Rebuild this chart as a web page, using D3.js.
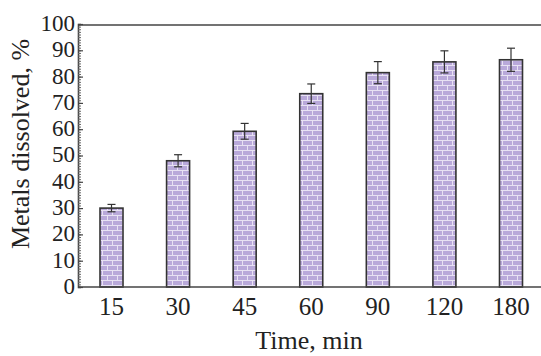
<!DOCTYPE html>
<html>
<head>
<meta charset="utf-8">
<script src="https://cdn.jsdelivr.net/npm/d3@7"></script>
<style>
  body { margin: 0; background: #fff; }
  svg { display: block; }
</style>
</head>
<body>
<div id="chart"></div>
<script>
// data
const times = ['15', '30', '45', '60', '90', '120', '180'];
const dissolved = [30, 48, 59.2, 73.5, 81.5, 85.6, 86.4];
const errors = [1.4, 2.3, 3, 3.7, 4.2, 4.2, 4.4];
const yTicks = [0, 10, 20, 30, 40, 50, 60, 70, 80, 90, 100];

const width = 541, height = 356;
const plot = { left: 78, right: 541, top: 24, bottom: 287 };
const font = '"Liberation Serif", "Times New Roman", serif';

const svg = d3.select('#chart').append('svg')
  .attr('width', width)
  .attr('height', height);

// brick fill
const defs = svg.append('defs');
const pat = defs.append('pattern')
  .attr('id', 'brick')
  .attr('patternUnits', 'userSpaceOnUse')
  .attr('width', 10)
  .attr('height', 10);
pat.append('rect').attr('width', 10).attr('height', 10).attr('fill', '#b9a9da');
pat.append('path')
  .attr('d', 'M0,0.5H10 M0,5.5H10 M2.5,0V5 M7.5,5V10')
  .attr('stroke', '#e8e2f3')
  .attr('stroke-width', 1)
  .attr('fill', 'none');

const x = d3.scalePoint()
  .domain(times)
  .range([111.5, 511]);

const y = d3.scaleLinear()
  .domain([0, 100])
  .range([plot.bottom, plot.top]);

const barW = 23;

// bars
svg.append('g').selectAll('rect')
  .data(times)
  .enter().append('rect')
  .attr('x', d => x(d) - barW / 2)
  .attr('y', (d, i) => y(dissolved[i]))
  .attr('width', barW)
  .attr('height', (d, i) => plot.bottom - y(dissolved[i]))
  .attr('fill', 'url(#brick)')
  .attr('stroke', '#333')
  .attr('stroke-width', 1.6);

// error bars
const err = svg.append('g').attr('stroke', '#333').attr('stroke-width', 1.2);
times.forEach((t, i) => {
  const cx = x(t);
  const y0 = y(dissolved[i] - errors[i]);
  const y1 = y(dissolved[i] + errors[i]);
  err.append('line').attr('x1', cx).attr('x2', cx).attr('y1', y0).attr('y2', y1);
  err.append('line').attr('x1', cx - 4).attr('x2', cx + 4).attr('y1', y0).attr('y2', y0);
  err.append('line').attr('x1', cx - 4).attr('x2', cx + 4).attr('y1', y1).attr('y2', y1);
});

// frame lines
const frame = svg.append('g').attr('stroke', '#444').attr('stroke-width', 1.6);
frame.append('line').attr('x1', plot.left).attr('x2', plot.right).attr('y1', plot.bottom).attr('y2', plot.bottom);
frame.append('line').attr('x1', plot.left).attr('x2', plot.right).attr('y1', plot.top + 1).attr('y2', plot.top + 1);

// y axis with minor ticks
const yAxis = svg.append('g')
  .attr('transform', `translate(${plot.left},0)`)
  .call(d3.axisRight(y).tickValues(d3.range(0, 101, 1)).tickSize(3).tickFormat(''));
yAxis.select('.domain').attr('stroke', '#444').attr('stroke-width', 1.6);
yAxis.selectAll('.tick line').attr('stroke', '#666');

svg.append('g')
  .attr('transform', `translate(${plot.left},0)`)
  .call(d3.axisRight(y).tickValues(yTicks).tickSize(5).tickFormat(''))
  .call(g => g.select('.domain').remove())
  .selectAll('.tick line').attr('stroke', '#444').attr('stroke-width', 1.2);

svg.append('g').selectAll('text')
  .data(yTicks)
  .enter().append('text')
  .attr('x', plot.left - 3)
  .attr('y', d => y(d))
  .attr('dy', '0.3em')
  .attr('text-anchor', 'end')
  .attr('font-family', font)
  .attr('font-size', 23)
  .attr('fill', '#222')
  .text(d => d);

// x labels
svg.append('g').selectAll('text')
  .data(times)
  .enter().append('text')
  .attr('x', d => x(d))
  .attr('y', 315)
  .attr('text-anchor', 'middle')
  .attr('font-family', font)
  .attr('font-size', 25)
  .attr('fill', '#222')
  .text(d => d);

svg.append('text')
  .attr('x', 309)
  .attr('y', 349)
  .attr('text-anchor', 'middle')
  .attr('font-family', font)
  .attr('font-size', 26)
  .attr('fill', '#222')
  .text('Time, min');

svg.append('text')
  .attr('transform', `translate(29, 144) rotate(-90)`)
  .attr('text-anchor', 'middle')
  .attr('font-family', font)
  .attr('font-size', 26)
  .attr('fill', '#222')
  .text('Metals dissolved, %');
</script>
</body>
</html>
